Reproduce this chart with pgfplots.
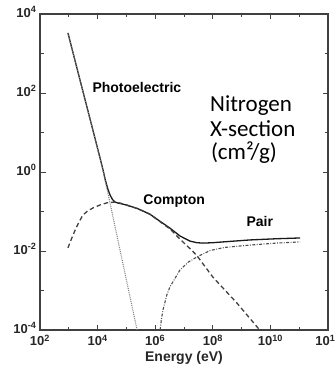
\documentclass[border=0pt]{standalone}
\usepackage{pgfplots}
\pgfplotsset{compat=1.18}
\usepackage{pgfplotstable}
\usepackage{fontspec}
\setmainfont{Liberation Sans}
\newfontfamily\calib{Carlito}

% log10(E/eV)  log10(sigma / cm^2 g^-1)
\pgfplotstableread{
lx ly
2.97 3.52
3.30 2.58
3.60 1.73
3.90 0.88
4.10 0.31
4.19 0.05
4.26 -0.18
4.35 -0.42
4.43 -0.58
4.52 -0.70
4.60 -0.76
4.70 -0.785
4.80 -0.80
5.02 -0.84
5.40 -0.93
5.82 -1.07
6.17 -1.25
6.51 -1.42
6.86 -1.62
7.21 -1.75
7.45 -1.79
7.66 -1.80
8.00 -1.79
8.35 -1.77
9.29 -1.72
10.2 -1.69
11.03 -1.67
}\total

\pgfplotstableread{
lx ly
2.97 3.52
3.50 2.01
4.00 0.58
4.19 0.03
4.43 -0.78
4.89 -2.36
5.37 -4.0
}\photo

\pgfplotstableread{
lx ly
2.97 -1.92
3.10 -1.68
3.22 -1.47
3.35 -1.27
3.49 -1.09
3.65 -0.99
3.84 -0.91
4.10 -0.83
4.33 -0.78
4.60 -0.76
4.80 -0.79
5.02 -0.84
5.40 -0.93
5.82 -1.07
6.17 -1.26
6.51 -1.44
6.86 -1.70
7.28 -1.99
7.45 -2.12
8.00 -2.66
8.84 -3.32
9.57 -3.95
9.62 -4.0
}\compton

\pgfplotstableread{
lx ly
6.17 -4.0
6.22 -3.70
6.27 -3.49
6.40 -3.12
6.51 -2.91
6.86 -2.48
7.15 -2.28
7.45 -2.15
7.90 -1.99
8.40 -1.91
9.29 -1.85
10.2 -1.80
11.03 -1.77
}\pair

\begin{document}
\begin{tikzpicture}
\begin{axis}[
  scale only axis, width=288pt, height=316pt,
  xmin=2, xmax=12, ymin=-4, ymax=4,
  xtick={2,4,...,12}, minor xtick={3,5,...,11},
  ytick={-4,-2,...,4}, minor ytick={-3,-1,...,3},
  xticklabels={10\textsuperscript{2},10\textsuperscript{4},10\textsuperscript{6},10\textsuperscript{8},10\textsuperscript{10},10\textsuperscript{12}},
  yticklabels={10\textsuperscript{-4},10\textsuperscript{-2},10\textsuperscript{0},10\textsuperscript{2},10\textsuperscript{4}},
  ticklabel style={font=\fontsize{13}{13}\selectfont\bfseries, text=black!85},
  xticklabel style={yshift=-1.5pt},
  yticklabel style={yshift=2pt},
  tick align=inside,
  major tick length=5.5pt, minor tick length=3.5pt,
  every tick/.style={line width=0.9pt, black!75},
  axis line style={line width=1.1pt, black!75},
  xlabel={Energy (eV)},
  xlabel style={font=\fontsize{14}{14}\selectfont\bfseries, text=black!85, yshift=1pt},
]
\addplot[line width=1.3pt, black!90] table[x=lx, y=ly] {\total};
\addplot[line width=1.1pt, black!50, dash pattern=on 0.9pt off 1pt] table[x=lx, y=ly] {\photo};
\addplot[line width=1.3pt, black!75, dash pattern=on 4.5pt off 3pt] table[x=lx, y=ly] {\compton};
\addplot[line width=1.1pt, black!70, dash pattern=on 3pt off 1.5pt on 0.8pt off 1.5pt] table[x=lx, y=ly] {\pair};

\node[anchor=base west, font=\fontsize{14}{14}\selectfont\bfseries] at (axis cs:3.70,2.0) {Photoelectric};
\node[anchor=base west, font=\fontsize{14}{14}\selectfont\bfseries] at (axis cs:5.47,-0.835) {Compton};
\node[anchor=base west, font=\fontsize{14}{14}\selectfont\bfseries] at (axis cs:9.05,-1.39) {Pair};

\node[anchor=base west, inner sep=0pt, font=\calib\fontsize{23}{24}\selectfont] at (axis cs:7.90,1.52) {Nitrogen};
\node[anchor=base west, inner sep=0pt, font=\calib\fontsize{23}{24}\selectfont] at (axis cs:7.90,0.911) {X-section};
\node[anchor=base west, inner sep=0pt, font=\calib\fontsize{23}{24}\selectfont] at (axis cs:7.93,0.304) {(cm²/g)};

\coordinate (bl) at (axis cs:0.611,-4.987);
\coordinate (tr) at (axis cs:12.208,4.354);
\end{axis}
\pgfresetboundingbox
\useasboundingbox (bl) rectangle (tr);
\end{tikzpicture}
\end{document}
